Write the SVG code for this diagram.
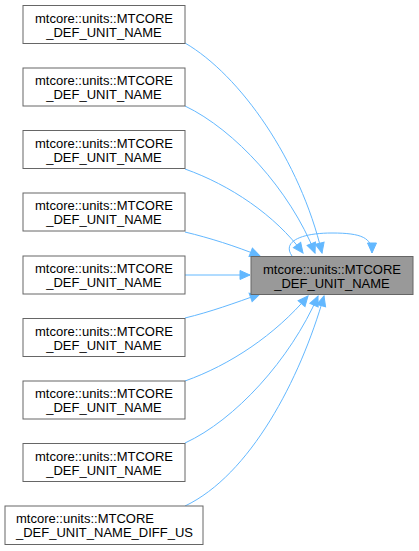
<svg xmlns="http://www.w3.org/2000/svg" width="419" height="551" viewBox="0 0 419 551">
<style>
.n rect{fill:#fff;stroke:#666;stroke-width:1}
.c rect{fill:#999;stroke:#666;stroke-width:1}
text{font-family:"Liberation Sans",Arial,sans-serif;font-size:13px;fill:#000}
.m{text-anchor:middle}
#edges path{fill:none;stroke:#63b8ff;stroke-width:1;marker-end:url(#ah)}
</style>
<defs>
<marker id="ah" markerUnits="userSpaceOnUse" markerWidth="12" markerHeight="12" viewBox="0 0 12 12" refX="11" refY="6" orient="auto">
<path d="M1,1.5 L11,6 L1,10.5 z" fill="#63b8ff" stroke="#63b8ff"/>
</marker>
</defs>
<rect width="419" height="551" fill="#fff"/>
<g id="edges">
<path d="M185,43 C240,75 300,160 322,253"/>
<path d="M185,106 C235,130 290,190 315,253"/>
<path d="M185,169 C230,185 275,215 303,253"/>
<path d="M185,232 C210,238 235,246 260,256"/>
<path d="M185,275 L250,275"/>
<path d="M185,318 C210,312 235,303 260,294"/>
<path d="M185,381 C230,365 275,335 308,296"/>
<path d="M185,443 C235,420 290,360 318,296"/>
<path d="M185,506 C250,475 300,380 324,296"/>
<path d="M292,256 C282,242 300,233 332,233 C362,233 372,238 372,253"/>
</g>
<g id="center" class="c"><rect x="251" y="256.5" width="162" height="38"/><text class="m" x="332" y="273.5">mtcore::units::MTCORE</text><text class="m" x="332" y="287.5">_DEF_UNIT_NAME</text></g>
<g id="n1" class="n"><rect x="23" y="5.5" width="162" height="38"/><text class="m" x="104" y="22.5">mtcore::units::MTCORE</text><text class="m" x="104" y="36.5">_DEF_UNIT_NAME</text></g>
<g id="n2" class="n"><rect x="23" y="68" width="162" height="38"/><text class="m" x="104" y="85">mtcore::units::MTCORE</text><text class="m" x="104" y="99">_DEF_UNIT_NAME</text></g>
<g id="n3" class="n"><rect x="23" y="130.5" width="162" height="38"/><text class="m" x="104" y="147.5">mtcore::units::MTCORE</text><text class="m" x="104" y="161.5">_DEF_UNIT_NAME</text></g>
<g id="n4" class="n"><rect x="23" y="193" width="162" height="38"/><text class="m" x="104" y="210">mtcore::units::MTCORE</text><text class="m" x="104" y="224">_DEF_UNIT_NAME</text></g>
<g id="n5" class="n"><rect x="23" y="256" width="162" height="38"/><text class="m" x="104" y="273">mtcore::units::MTCORE</text><text class="m" x="104" y="287">_DEF_UNIT_NAME</text></g>
<g id="n6" class="n"><rect x="23" y="318.5" width="162" height="38"/><text class="m" x="104" y="335.5">mtcore::units::MTCORE</text><text class="m" x="104" y="349.5">_DEF_UNIT_NAME</text></g>
<g id="n7" class="n"><rect x="23" y="381" width="162" height="38"/><text class="m" x="104" y="398">mtcore::units::MTCORE</text><text class="m" x="104" y="412">_DEF_UNIT_NAME</text></g>
<g id="n8" class="n"><rect x="23" y="443.5" width="162" height="38"/><text class="m" x="104" y="460.5">mtcore::units::MTCORE</text><text class="m" x="104" y="474.5">_DEF_UNIT_NAME</text></g>
<g id="n9" class="n"><rect x="5" y="506" width="198" height="38.5"/><text x="16" y="523">mtcore::units::MTCORE</text><text x="16" y="537">_DEF_UNIT_NAME_DIFF_US</text></g>
</svg>
